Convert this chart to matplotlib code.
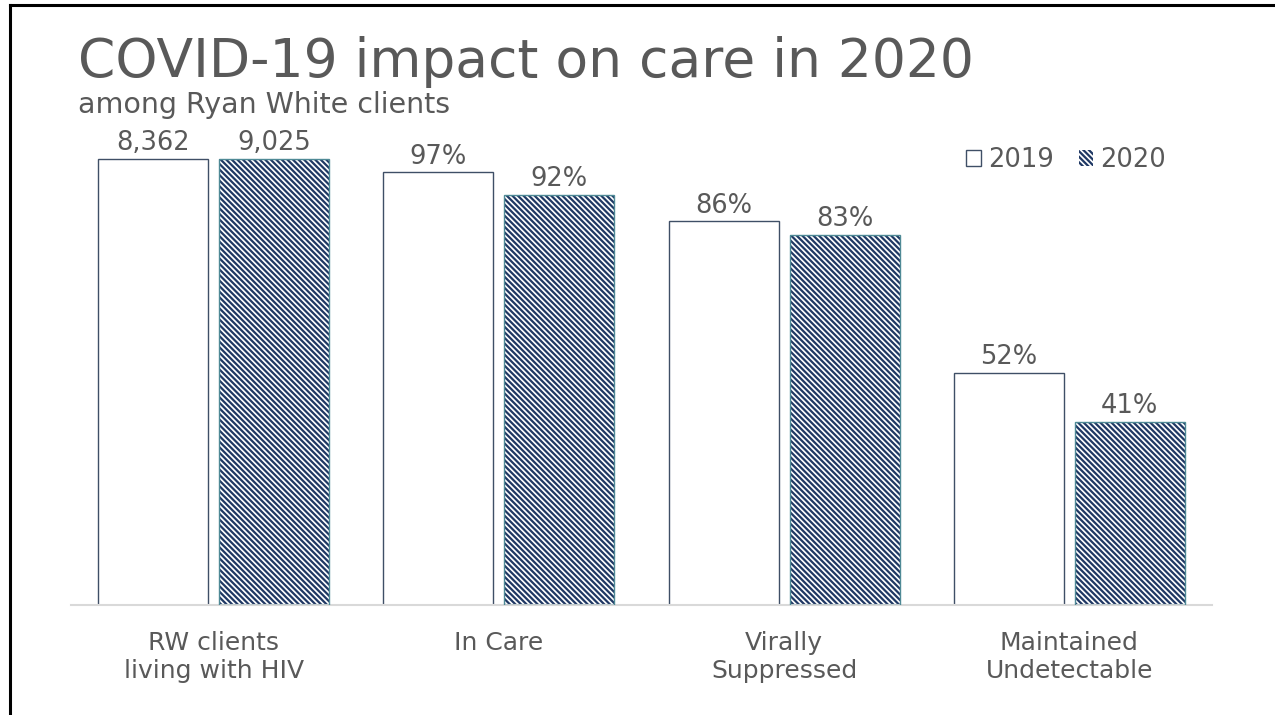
import matplotlib
matplotlib.use("Agg")
import matplotlib.pyplot as plt
from matplotlib.patches import Patch
from matplotlib.lines import Line2D
import numpy as np

categories = ["RW clients\nliving with HIV", "In Care", "Virally\nSuppressed", "Maintained\nUndetectable"]
heights_2019 = [100, 97, 86, 52]
heights_2020 = [100, 92, 83, 41]
labels_2019 = ["8,362", "97%", "86%", "52%"]
labels_2020 = ["9,025", "92%", "83%", "41%"]
series_names = ["2019", "2020"]

TXT = "#595959"
NAVY = "#1F3864"
EDGE19 = "#3F4F66"
EDGE20 = "#4F8A96"
HATCH = "\\" * 6

plt.rcParams['font.family'] = ['DejaVu Sans']
plt.rcParams['hatch.linewidth'] = 1.6

fig = plt.figure(figsize=(12.75, 7.15), dpi=100)
W, H = 1275, 715
ax = fig.add_axes([71 / W, 1 - 605 / H, (1212 - 71) / W, (605 - 130) / H])

x = np.arange(len(categories))
bw = 0.386
off = 0.212

ax.bar(x - off, heights_2019, bw, facecolor="white", edgecolor=EDGE19, linewidth=1.0, zorder=2)
ax.bar(x + off, heights_2020, bw, facecolor="white", edgecolor=NAVY, hatch=HATCH, linewidth=0, zorder=2)
ax.bar(x + off, heights_2020, bw, facecolor="none", edgecolor=EDGE20, linewidth=1.0, zorder=3)

for xi, h, lab in zip(x - off, heights_2019, labels_2019):
    ax.annotate(lab, (xi, h), xytext=(0, 2), textcoords="offset points",
                ha="center", va="bottom", fontsize=18.5, color=TXT)
for xi, h, lab in zip(x + off, heights_2020, labels_2020):
    ax.annotate(lab, (xi, h), xytext=(0, 2), textcoords="offset points",
                ha="center", va="bottom", fontsize=18.5, color=TXT)

ax.set_xlim(-0.5, 3.5)
ax.set_ylim(0, (605 - 130) / 446 * 100)
ax.set_xticks(x)
ax.set_xticklabels(categories, fontsize=18, color=TXT, linespacing=1.25)
ax.tick_params(axis="x", length=0, pad=18.5)
ax.set_yticks([])
for s in ["top", "left", "right"]:
    ax.spines[s].set_visible(False)
ax.spines["bottom"].set_color("#D9D9D9")
ax.spines["bottom"].set_linewidth(1.5)

h1 = Patch(facecolor="white", edgecolor=EDGE19, linewidth=1.0)
h2 = Patch(facecolor="white", edgecolor=NAVY, hatch=HATCH, linewidth=0)
leg = fig.legend([h1, h2], series_names, loc="center left",
                 bbox_to_anchor=(966 / W, 1 - 160 / H), ncol=2, frameon=False,
                 fontsize=18.5, handlelength=0.58, handleheight=0.58,
                 handletextpad=0.27, columnspacing=0.97, labelcolor=TXT,
                 borderaxespad=0, borderpad=0)

fig.text(78 / W, 1 - 77 / H, "COVID-19 impact on care in 2020", fontsize=38.5,
         color=TXT, ha="left", va="baseline")
fig.text(78 / W, 1 - 113 / H, "among Ryan White clients", fontsize=20.5,
         color=TXT, ha="left", va="baseline")

# slide border (top and left)
fig.add_artist(Line2D([9.5 / W, 9.5 / W], [0, 1 - 4.5 / H], transform=fig.transFigure,
                      color="black", linewidth=2.2))
fig.add_artist(Line2D([9.5 / W, 1], [1 - 4.5 / H, 1 - 4.5 / H], transform=fig.transFigure,
                      color="black", linewidth=2.2))

fig.savefig("out.png", dpi=100, facecolor="white")
